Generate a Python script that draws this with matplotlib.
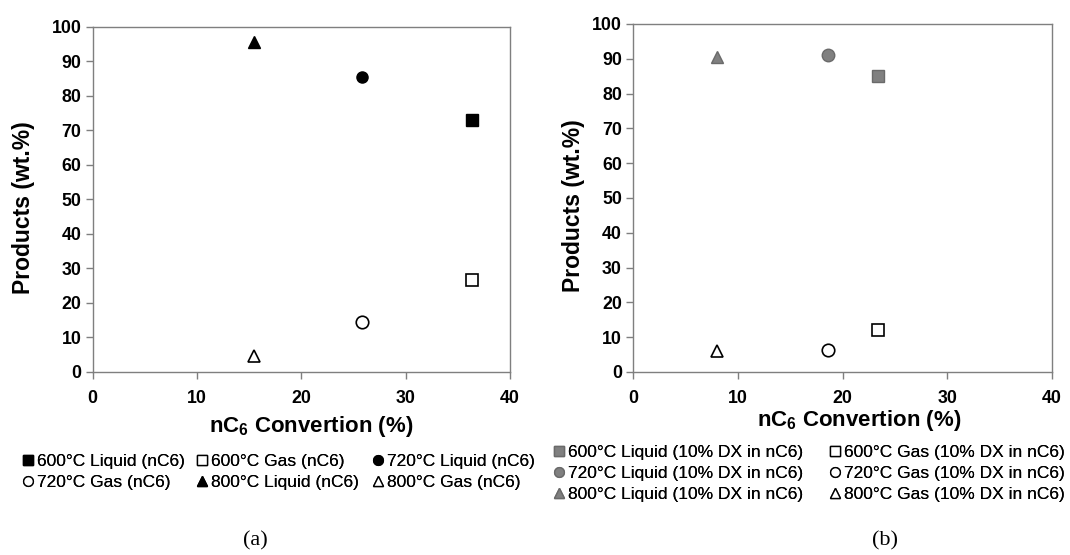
import matplotlib.pyplot as plt
from matplotlib.lines import Line2D

plt.rcParams['font.family'] = ['Liberation Sans', 'DejaVu Sans']
plt.rcParams['mathtext.fontset'] = 'custom'
plt.rcParams['mathtext.rm'] = 'Liberation Sans'
plt.rcParams['mathtext.bf'] = 'Liberation Sans:bold'

# panel (a): pure nC6
conv_a = [36.4, 25.8, 15.5]
liquid_a = [73.0, 85.3, 95.5]
gas_a = [26.5, 14.5, 4.5]

# panel (b): 10% DX in nC6
conv_b = [23.4, 18.6, 8.0]
liquid_b = [85.0, 91.0, 90.5]
gas_b = [12.0, 6.3, 6.0]

temps = ['600°C', '720°C', '800°C']
markers = ['s', 'o', '^']

fig = plt.figure(figsize=(10.7, 5.55), dpi=100)
ax_a = fig.add_axes([92.7 / 1070, 1 - 372 / 555, 417.3 / 1070, 345.3 / 555])
ax_b = fig.add_axes([633 / 1070, 1 - 372 / 555, 419 / 1070, 348 / 555])

edge = '#7f7f7f'


def style(ax, xlab_pos, ylab_pos):
    ax.set_xlim(0, 40)
    ax.set_ylim(0, 100)
    ax.set_xticks(range(0, 41, 10))
    ax.set_yticks(range(0, 101, 10))
    for s in ax.spines.values():
        s.set_color(edge)
        s.set_linewidth(1.0)
    ax.tick_params(direction='out', length=5, color=edge, width=1.0, labelsize=12.8)
    ax.tick_params(axis='x', pad=8)
    ax.tick_params(axis='y', pad=3)
    for lab in ax.get_xticklabels() + ax.get_yticklabels():
        lab.set_fontweight('bold')
    ax.set_xlabel('nC$_\\mathbf{6}$ Convertion (%)', fontsize=16, fontweight='bold')
    ax.set_ylabel('Products (wt.%)', fontsize=16.5, fontweight='bold')
    ax.xaxis.set_label_coords(*xlab_pos)
    ax.xaxis.label.set_va('center')
    ax.yaxis.set_label_coords(*ylab_pos)
    ax.yaxis.label.set_va('center')


def column_legend(handles, x_px, top_px):
    leg = fig.legend(handles=handles, ncol=1, frameon=False, fontsize=12.5,
                     loc='upper left', bbox_to_anchor=(x_px / 1070, 1 - top_px / 555),
                     handletextpad=0.1, labelspacing=0.33, handlelength=0.8,
                     borderaxespad=0, borderpad=0)
    fig.add_artist(leg)


liq_a, gas_ha = [], []
for x, yl, yg, m, t in zip(conv_a, liquid_a, gas_a, markers, temps):
    ax_a.plot(x, yl, m, ms=8, mfc='black', mec='black')
    ax_a.plot(x, yg, m, ms=9, mfc='white', mec='black', mew=1.2)
    liq_a.append(Line2D([], [], ls='none', marker=m, ms=7, mfc='black', mec='black',
                        label=f'{t} Liquid (nC6)'))
    gas_ha.append(Line2D([], [], ls='none', marker=m, ms=7, mfc='white', mec='black',
                         label=f'{t} Gas (nC6)'))

liq_b, gas_hb = [], []
for x, yl, yg, m, t in zip(conv_b, liquid_b, gas_b, markers, temps):
    ax_b.plot(x, yl, m, ms=9, mfc='#808080', mec='#6a6a6a')
    ax_b.plot(x, yg, m, ms=9, mfc='white', mec='black', mew=1.2)
    liq_b.append(Line2D([], [], ls='none', marker=m, ms=7, mfc='#808080', mec='#6a6a6a',
                        label=f'{t} Liquid (10% DX in nC6)'))
    gas_hb.append(Line2D([], [], ls='none', marker=m, ms=7, mfc='white', mec='black',
                         label=f'{t} Gas (10% DX in nC6)'))

style(ax_a, (0.523, -0.159), (-0.165, 0.475))
style(ax_b, (0.539, -0.14), (-0.143, 0.477))

# legend (a): entries laid out row by row over three equal columns
entries_a = [liq_a[0], gas_ha[0], liq_a[1], gas_ha[1], liq_a[2], gas_ha[2]]
for c, x_px in enumerate([21, 195, 371]):
    column_legend(entries_a[c::3], x_px, 454)

# legend (b): two columns, liquids left, gases right
column_legend(liq_b, 552, 445)
column_legend(gas_hb, 828, 445)

fig.text(255 / 1070, 1 - 541 / 555, '(a)', family='Liberation Serif', fontsize=16,
         ha='center', va='center')
fig.text(885 / 1070, 1 - 541 / 555, '(b)', family='Liberation Serif', fontsize=16,
         ha='center', va='center')

fig.savefig('out.png', dpi=100, facecolor='white')
